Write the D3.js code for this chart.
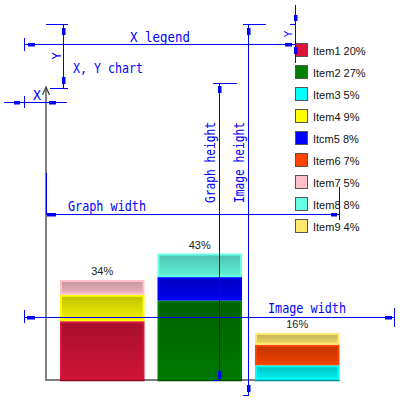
<!DOCTYPE html>
<html><head><meta charset="utf-8">
<script src="https://cdn.jsdelivr.net/npm/d3@7"></script>
<style>html,body{margin:0;padding:0;background:#fff;}svg{display:block;}</style>
</head><body>
<svg id="c" width="402" height="400"></svg>
<script>
// ---- data ----
const categories = ["Group1", "Group2", "Group3"];
const items = ["Item1","Item2","Item3","Item4","Item5","Item6","Item7","Item8","Item9"];
const values = [20, 27, 5, 9, 8, 7, 5, 8, 4];
const itemGroup = [0, 1, 2, 0, 1, 2, 0, 1, 2];
const colors = ["#DC143C","#008000","#00FFFF","#FFFF00","#0000FF","#FF4500","#FFC0CB","#66FFE6","#FFE870"];
const legendLabels = ["Item1 20%","Item2 27%","Item3 5%","Item4 9%","Itcm5 8%","Item6 7%","Item7 5%","Item8 8%","Item9 4%"];
const yTicks = [0, 100];

const svg = d3.select("#c");
const blue = "#0000FF";

const x = d3.scaleBand().domain(categories).range([53.5, 346]).paddingInner(0.133).paddingOuter(0.0667);
const y = d3.scaleLinear().domain([0, 100]).range([380, 86]);

// gradients
const defs = svg.append("defs");
colors.forEach((c, i) => {
  const g = defs.append("linearGradient").attr("id", "g" + i).attr("x1", 0).attr("y1", 0).attr("x2", 0).attr("y2", 1);
  const base = d3.rgb(c);
  const top = d3.rgb(base.r * 0.76, base.g * 0.76, base.b * 0.76);
  const bot = d3.rgb(base.r * 0.94, base.g * 0.94, base.b * 0.94);
  g.append("stop").attr("offset", 0).attr("stop-color", top);
  g.append("stop").attr("offset", 1).attr("stop-color", bot);
});

// stacked segments
const segs = [];
const cum = categories.map(() => 0);
items.forEach((it, i) => {
  const gi = itemGroup[i];
  segs.push({ i, cat: categories[gi], y0: cum[gi], y1: cum[gi] + values[i] });
  cum[gi] += values[i];
});

// axes
const axisG = svg.append("g");
axisG.append("line").attr("x1", 46).attr("x2", 46).attr("y1", y(0) + 1).attr("y2", y(100) + 1)
  .attr("stroke", "#808080").attr("stroke-width", 2);
axisG.append("line").attr("x1", 45).attr("x2", x(categories[2]) + x.bandwidth()).attr("y1", y(0)).attr("y2", y(0))
  .attr("stroke", "#808080").attr("stroke-width", 2);
axisG.append("path").attr("d", `M42.5,${y(100) + 9}L46,${y(100) + 1}L49.5,${y(100) + 9}`)
  .attr("fill", "none").attr("stroke", "#404040").attr("stroke-width", 1.2);

const bars = svg.append("g");
bars.selectAll("rect").data(segs).join("rect")
  .attr("x", d => x(d.cat) + 1)
  .attr("width", x.bandwidth() - 2)
  .attr("y", d => y(d.y1) + 1)
  .attr("height", d => y(d.y0) - y(d.y1) - 2)
  .attr("fill", d => `url(#g${d.i})`)
  .attr("stroke", d => colors[d.i])
  .attr("stroke-width", 2);
// dark base line of bars
bars.selectAll("line.base").data(categories).join("line").attr("class", "base")
  .attr("x1", d => x(d)).attr("x2", d => x(d) + x.bandwidth())
  .attr("y1", y(0) + 0.5).attr("y2", y(0) + 0.5)
  .attr("stroke", (d, k) => d3.rgb(colors[k]).darker(1.6)).attr("stroke-width", 1.5);

// totals
svg.append("g").selectAll("text").data(categories).join("text")
  .attr("x", d => x(d) + x.bandwidth() / 2)
  .attr("y", (d, k) => y(cum[k]) - 5)
  .attr("text-anchor", "middle")
  .attr("font-family", "Liberation Sans, Arial, sans-serif").attr("font-size", 11).attr("fill", "#222")
  .text((d, k) => cum[k] + "%");

// legend
const lg = svg.append("g");
const leg = lg.selectAll("g").data(items).join("g").attr("transform", (d, i) => `translate(295,${43 + i * 22})`);
leg.append("rect").attr("x", 0.5).attr("y", 0.5).attr("width", 12).attr("height", 13)
  .attr("fill", (d, i) => colors[i]).attr("stroke", "#555").attr("stroke-width", 1);
leg.append("text").attr("x", 18).attr("y", 12)
  .attr("font-family", "Liberation Sans, Arial, sans-serif").attr("font-size", 11).attr("fill", "#111")
  .text((d, i) => legendLabels[i]);

// ---- dimension annotations ----
const dim = svg.append("g").attr("stroke", blue).attr("stroke-width", 1).attr("fill", "none");
function ln(x1, y1, x2, y2) { dim.append("line").attr("x1", x1).attr("y1", y1).attr("x2", x2).attr("y2", y2); }
function arrH(xa, xb, yy) { svg.append("rect").attr("x", Math.min(xa, xb)).attr("y", yy - 1.5).attr("width", Math.abs(xb - xa)).attr("height", 3.5).attr("fill", blue); }
function arrV(ya, yb, xx) { svg.append("rect").attr("x", xx - 1.5).attr("y", Math.min(ya, yb)).attr("width", 3.5).attr("height", Math.abs(yb - ya)).attr("fill", blue); }
function txt(t, xx, yy, len, rot) {
  const el = svg.append("text").attr("font-family", "DejaVu Sans Mono, monospace").attr("font-size", 13.5)
    .attr("fill", blue).attr("textLength", len).attr("lengthAdjust", "spacingAndGlyphs").text(t);
  if (rot) el.attr("transform", `translate(${xx},${yy}) rotate(-90)`).attr("text-anchor", "start");
  else el.attr("x", xx).attr("y", yy);
}

// X legend
ln(24, 44.5, 295, 44.5); ln(24.5, 38, 24.5, 51);
arrH(28, 35, 44.5); arrH(285, 292, 44.5);
txt("X legend", 130, 42, 60);
// X,Y chart vertical
ln(63.5, 24, 63.5, 88); ln(46, 24.5, 68, 24.5); ln(50, 88.5, 68, 88.5);
arrV(28, 35, 63.5); arrV(77, 84, 63.5);
svg.append("text").attr("transform", "translate(61,56) rotate(-90)").attr("text-anchor", "middle")
  .attr("font-family", "DejaVu Sans Mono, monospace").attr("font-size", 12).attr("fill", blue).text("Y");
txt("X, Y chart", 73, 73, 70);
// small X
ln(4, 102.5, 67, 102.5); ln(24.5, 96, 24.5, 108);
arrH(14, 20, 102.5); arrH(49, 56, 102.5);
txt("X", 33, 100, 8);
// legend Y
ln(295.5, 5, 295.5, 63); ln(290, 24.5, 296, 24.5);
arrV(15, 21, 295.5); arrV(47, 54, 295.5);
svg.append("text").attr("transform", "translate(292,34) rotate(-90)").attr("text-anchor", "middle")
  .attr("font-family", "DejaVu Sans Mono, monospace").attr("font-size", 11).attr("fill", blue).text("Y");
// Graph width
const gwR = x(categories[2]) + x.bandwidth();
ln(46.5, 173, 46.5, 214); ln(46, 214.5, gwR, 214.5); ln(gwR, 187, gwR, 220);
arrH(47, 56, 214.5); arrH(331, 337, 214.5);
txt("Graph width", 68, 211, 78);
// Graph height
ln(219.5, 83, 219.5, 380); ln(213, 83.5, 237, 83.5); ln(213, 380.5, 220, 380.5);
arrV(86, 93, 219.5); arrV(371, 379, 219.5);
txt("Graph height", 215, 203, 81, true);
// Image height
ln(248.5, 24, 248.5, 395); ln(243, 24.5, 266, 24.5); ln(243, 395.5, 249, 395.5);
arrV(28, 35, 248.5); arrV(385, 392, 248.5);
txt("Image height", 244, 203, 81, true);
// Image width
ln(24, 317.5, 394, 317.5); ln(24.5, 310, 24.5, 323); ln(394.5, 308, 394.5, 327);
arrH(27, 35, 317.5); arrH(385, 392, 317.5);
txt("Image width", 268, 313, 78);
</script>
</body></html>
